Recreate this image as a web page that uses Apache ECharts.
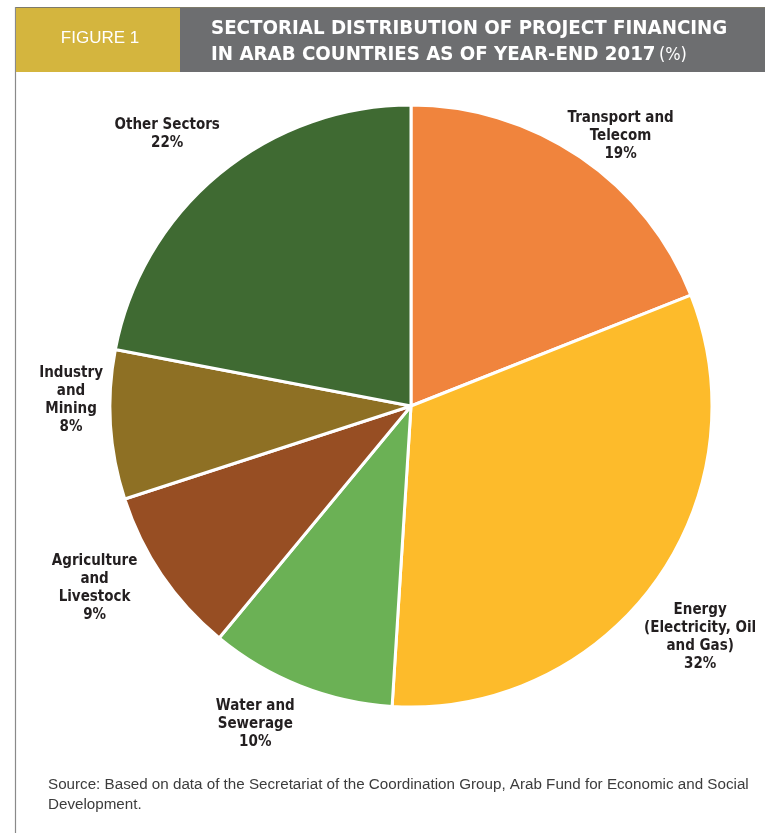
<!DOCTYPE html>
<html>
<head>
<meta charset="utf-8">
<title>Sectorial distribution of project financing</title>
<script src="https://cdn.jsdelivr.net/npm/echarts@6/dist/echarts.min.js"></script>
<style>
  html, body { margin: 0; padding: 0; background: #ffffff; }
  #chart { width: 765px; height: 833px; }
</style>
</head>
<body>
<div id="chart"></div>
<script>
// Sectors (clockwise from 12 o'clock) and their shares in percent
const sectors = [
  'Transport and\nTelecom',
  'Energy\n(Electricity, Oil\nand Gas)',
  'Water and\nSewerage',
  'Agriculture\nand\nLivestock',
  'Industry\nand\nMining',
  'Other Sectors'
];
const shares = [19, 32, 10, 9, 8, 22];
const sliceColors = ['#F0843D', '#FDBB2B', '#6BB155', '#974E23', '#8E7024', '#3F6A32'];

const figureLabel = 'FIGURE 1';
const titleLines = ['SECTORIAL DISTRIBUTION OF PROJECT FINANCING', 'IN ARAB COUNTRIES AS OF YEAR-END 2017'];
const titleUnit = '(%)';
const sourceNote = 'Source: Based on data of the Secretariat of the Coordination Group, Arab Fund for Economic and Social\nDevelopment.';

// Pie geometry
const pieCenter = [411, 406];
const pieRadius = 301;
// Where each sector label is centred: polar angle (degrees clockwise from 12 o'clock) and distance from the pie centre
const labelAngle = [37.8, 128.6, 206.1, 240.1, 271.0, 318.1];
const labelDistance = [342, 370, 354, 365, 340, 365];

const labelFont = "'Liberation Sans Narrow', 'DejaVu Sans Condensed', 'Roboto Condensed', sans-serif";

const chart = echarts.init(document.getElementById('chart'), null, { renderer: 'canvas' });

chart.setOption({
  animation: false,
  backgroundColor: '#ffffff',
  graphic: [
    // frame lines
    { type: 'line', shape: { x1: 15, y1: 7.5, x2: 765, y2: 7.5 }, style: { stroke: '#7d7a6a', lineWidth: 1 } },
    { type: 'line', shape: { x1: 15.5, y1: 7, x2: 15.5, y2: 833 }, style: { stroke: '#8a8a8a', lineWidth: 1.2 } },
    // header boxes
    { type: 'rect', shape: { x: 16, y: 8, width: 164, height: 64 }, style: { fill: '#D4B53E' } },
    { type: 'rect', shape: { x: 180, y: 8, width: 585, height: 64 }, style: { fill: '#6D6E70' } },
    {
      type: 'text', x: 100, y: 38,
      style: {
        text: figureLabel, fill: '#ffffff', font: "17px 'Liberation Sans', 'Open Sans', sans-serif",
        align: 'center', verticalAlign: 'middle'
      }
    },
    {
      type: 'text', x: 211, y: 42,
      style: {
        text: '{b|' + titleLines[0] + '}\n{b|' + titleLines[1] + '} {l|' + titleUnit + '}',
        verticalAlign: 'middle', align: 'left',
        rich: {
          b: { fill: '#ffffff', fontFamily: labelFont, fontWeight: 'bold', fontSize: 20.3, lineHeight: 26 },
          l: { fill: '#ffffff', fontFamily: labelFont, fontWeight: 'normal', fontSize: 18, lineHeight: 26 }
        }
      }
    },
    {
      type: 'text', x: 48, y: 795,
      style: {
        text: sourceNote, fill: '#3c3c3c', font: "15.2px 'Liberation Sans', 'Open Sans', sans-serif",
        lineHeight: 20, align: 'left', verticalAlign: 'middle'
      }
    }
  ],
  series: [
    {
      type: 'pie',
      center: pieCenter,
      radius: pieRadius,
      startAngle: 90,
      clockwise: true,
      avoidLabelOverlap: false,
      itemStyle: { borderColor: '#ffffff', borderWidth: 3 },
      emphasis: { disabled: true },
      labelLine: { show: false },
      label: {
        show: true,
        position: 'outside',
        formatter: p => p.name + '\n' + p.value + '%',
        fontFamily: labelFont,
        fontWeight: 'bold',
        fontSize: 15,
        lineHeight: 18,
        color: '#231F20',
        align: 'center'
      },
      labelLayout: function (params) {
        const i = params.dataIndex;
        const a = labelAngle[i] * Math.PI / 180;
        const d = labelDistance[i];
        return {
          x: pieCenter[0] + d * Math.sin(a),
          y: pieCenter[1] - d * Math.cos(a),
          align: 'center',
          verticalAlign: 'middle'
        };
      },
      data: sectors.map((name, i) => ({
        name: name,
        value: shares[i],
        itemStyle: { color: sliceColors[i] }
      }))
    }
  ]
});
</script>
</body>
</html>
